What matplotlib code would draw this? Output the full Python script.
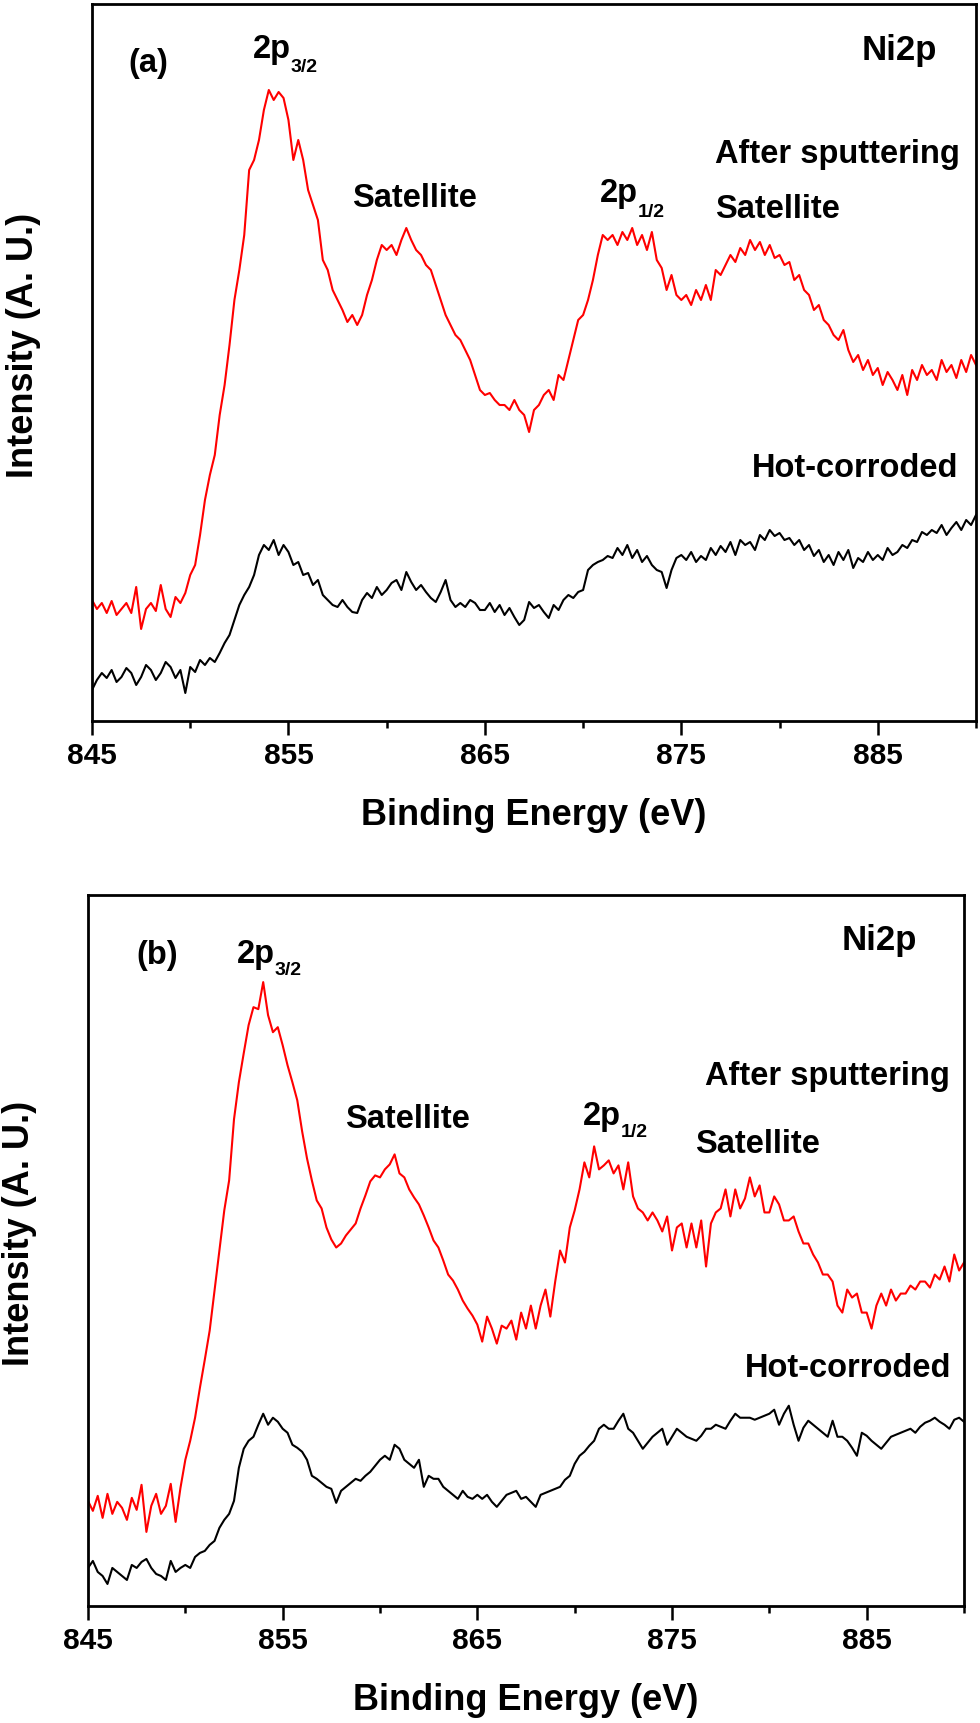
import numpy as np
import matplotlib
matplotlib.use("Agg")
import matplotlib.pyplot as plt

# binding energy grid (eV), 0.25 eV steps
energy = np.arange(845.0, 890.001, 0.25)

# panel (a) intensities (arbitrary units)
red_a = [121, 112, 118, 108, 120, 106, 112, 118, 108, 134, 92, 112,
         118, 110, 136, 112, 104, 124, 118, 128, 146, 156, 186, 221,
         246, 266, 306, 336, 376, 421, 451, 486, 551, 561, 581, 611,
         631, 621, 629, 623, 601, 561, 581, 561, 531, 516, 501, 461,
         451, 431, 421, 411, 399, 406, 396, 406, 426, 441, 461, 476,
         471, 476, 466, 481, 493, 481, 471, 466, 456, 451, 436, 421,
         406, 396, 386, 381, 371, 361, 346, 331, 326, 328, 321, 316,
         316, 311, 321, 311, 306, 289, 311, 316, 326, 331, 321, 346,
         341, 361, 381, 401, 406, 421, 441, 466, 486, 481, 486, 476,
         489, 481, 493, 476, 486, 471, 489, 461, 453, 431, 446, 426,
         421, 426, 416, 431, 421, 436, 421, 451, 446, 456, 466, 459,
         473, 466, 481, 471, 479, 466, 476, 463, 466, 456, 459, 441,
         446, 431, 426, 411, 416, 401, 396, 386, 381, 391, 371, 359,
         366, 351, 361, 346, 353, 336, 349, 341, 331, 346, 326, 351,
         341, 356, 346, 351, 341, 361, 349, 356, 343, 361, 349, 366,
         356]
black_a = [31, 41, 48, 43, 51, 39, 44, 53, 48, 36, 44, 56,
           51, 41, 48, 59, 54, 43, 51, 28, 54, 49, 61, 56,
           63, 59, 68, 78, 86, 101, 116, 126, 134, 146, 166, 176,
           171, 181, 166, 176, 169, 156, 159, 146, 148, 136, 141, 126,
           121, 116, 114, 121, 114, 109, 108, 121, 128, 123, 134, 126,
           131, 138, 141, 131, 149, 139, 131, 136, 129, 123, 119, 129,
           141, 121, 114, 118, 114, 121, 118, 111, 111, 118, 109, 116,
           106, 113, 104, 96, 101, 119, 113, 116, 109, 103, 116, 111,
           121, 126, 123, 129, 131, 151, 156, 159, 161, 165, 163, 173,
           166, 176, 163, 171, 159, 165, 156, 151, 149, 133, 151, 163,
           166, 161, 169, 159, 165, 161, 173, 166, 175, 169, 179, 166,
           181, 176, 179, 171, 186, 181, 191, 185, 188, 181, 183, 176,
           181, 171, 176, 165, 171, 159, 166, 156, 169, 161, 171, 153,
           163, 159, 169, 161, 166, 161, 173, 166, 169, 176, 173, 181,
           179, 189, 186, 191, 188, 196, 186, 193, 199, 191, 201, 196,
           206]

# panel (b) intensities
red_b = [105, 95, 110, 88, 112, 92, 104, 98, 86, 108, 96, 121,
         74, 100, 112, 92, 100, 122, 84, 118, 146, 165, 188, 218,
         246, 275, 315, 355, 395, 425, 486, 523, 552, 580, 598, 596,
         623, 590, 573, 578, 560, 540, 523, 505, 474, 447, 425, 405,
         397, 378, 366, 358, 362, 370, 376, 382, 397, 410, 424, 430,
         428, 436, 441, 451, 432, 428, 416, 408, 401, 390, 378, 365,
         358, 345, 331, 325, 316, 305, 297, 290, 281, 264, 289, 277,
         262, 280, 277, 285, 266, 293, 277, 300, 277, 300, 316, 289,
         324, 355, 343, 378, 395, 416, 443, 428, 459, 436, 440, 445,
         432, 440, 416, 443, 409, 397, 393, 385, 393, 385, 374, 389,
         355, 378, 382, 358, 382, 358, 385, 339, 382, 393, 397, 416,
         389, 416, 397, 407, 428, 409, 420, 393, 393, 409, 401, 385,
         385, 389, 374, 362, 362, 351, 343, 331, 331, 324, 300, 293,
         316, 308, 312, 293, 293, 277, 300, 312, 300, 316, 305, 312,
         312, 320, 316, 324, 324, 318, 331, 326, 339, 324, 351, 335,
         343]
black_b = [38, 45, 34, 30, 22, 38, 34, 30, 26, 41, 38, 44,
           47, 38, 32, 30, 26, 45, 34, 38, 41, 38, 49, 53,
           55, 61, 65, 78, 86, 92, 105, 138, 157, 165, 169, 181,
           192, 181, 188, 184, 177, 173, 161, 158, 154, 146, 130, 127,
           123, 119, 117, 103, 115, 119, 123, 127, 125, 130, 134, 140,
           146, 150, 146, 161, 157, 146, 142, 138, 146, 119, 130, 127,
           127, 119, 115, 111, 107, 115, 109, 107, 111, 107, 111, 104,
           99, 105, 111, 113, 115, 107, 109, 104, 99, 111, 113, 115,
           117, 119, 126, 130, 142, 150, 154, 160, 165, 177, 181, 177,
           177, 185, 192, 177, 173, 165, 157, 163, 169, 173, 177, 161,
           169, 177, 173, 169, 167, 165, 170, 177, 177, 181, 179, 177,
           185, 192, 188, 188, 188, 186, 188, 190, 192, 196, 181, 192,
           200, 181, 165, 178, 185, 181, 177, 173, 169, 185, 169, 169,
           165, 158, 150, 173, 170, 165, 161, 157, 163, 169, 171, 173,
           175, 177, 173, 179, 183, 185, 188, 184, 181, 177, 186, 188,
           184]

major_ticks = [845, 855, 865, 875, 885]
minor_ticks = [850, 860, 870, 880, 890]

plt.rcParams['font.family'] = ['Liberation Sans', 'DejaVu Sans']
plt.rcParams['font.weight'] = 'bold'

W, H = 980, 1723
fig = plt.figure(figsize=(W / 100, H / 100), dpi=100)
renderer = fig.canvas.get_renderer()


def label(x, y, s, size=23.5):
    # x = left edge, y = baseline, both in pixels from the top-left corner
    return fig.text(x / W, 1 - y / H, s, ha='left', va='baseline',
                    fontsize=size, fontweight='bold')


def orbital(x, y, main, sub, drop=13):
    # "2p" plus a lowered, smaller "3/2" subscript, like the Origin labels
    t = label(x, y, main)
    bb = t.get_window_extent(renderer)
    fig.text(bb.x1 / W, 1 - (y + drop) / H, sub, ha='left', va='baseline',
             fontsize=14, fontweight='bold')


def panel(left, top, right, bottom, red, black, ymax):
    ax = fig.add_axes([left / W, 1 - bottom / H, (right - left) / W, (bottom - top) / H])
    ax.plot(energy, red, color='#ff0000', lw=1.5)
    ax.plot(energy, black, color='black', lw=1.5)
    ax.set_xlim(845, 890)
    ax.set_ylim(0, ymax)
    ax.set_xticks(major_ticks)
    ax.set_xticks(minor_ticks, minor=True)
    ax.set_yticks([])
    for s in ax.spines.values():
        s.set_linewidth(2.0)
    ax.tick_params(which='major', direction='out', length=10, width=1.8,
                   labelsize=21.5, pad=5)
    ax.tick_params(which='minor', direction='out', length=5, width=1.8)
    ax.set_xlabel('Binding Energy (eV)', fontsize=26, fontweight='bold')
    ax.set_ylabel('Intensity (A. U.)', fontsize=26, fontweight='bold')
    ax.xaxis.set_label_coords(0.5, -0.108)
    ax.yaxis.set_label_coords(-0.058, 0.524)
    return ax


panel(92, 4, 976, 721, red_a, black_a, 717)
panel(88, 895, 964, 1606, red_b, black_b, 710)

# panel (a) annotations
label(128, 72, '(a)')
orbital(253, 58, '2p', '3/2', 14)
label(352, 207, 'Satellite')
label(862, 60, 'Ni2p', 25)
label(715, 163, 'After sputtering')
orbital(600, 202, '2p', '1/2', 15)
label(715, 218, 'Satellite')
label(752, 477, 'Hot-corroded')

# panel (b) annotations
label(136, 964, '(b)')
orbital(237, 963, '2p', '3/2', 12)
label(345, 1128, 'Satellite')
label(842, 950, 'Ni2p', 25)
label(705, 1085, 'After sputtering')
orbital(583, 1125, '2p', '1/2', 12)
label(695, 1153, 'Satellite')
label(745, 1377, 'Hot-corroded')

fig.savefig('out.png', dpi=100)
